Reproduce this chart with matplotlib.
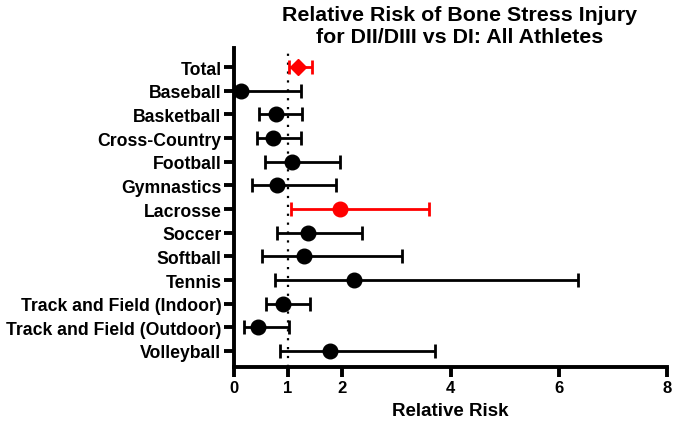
import matplotlib
matplotlib.use("Agg")
import matplotlib.pyplot as plt
import numpy as np

plt.rcParams['font.family'] = ['Liberation Sans', 'DejaVu Sans']
plt.rcParams['font.weight'] = 'bold'

sports = ["Total", "Baseball", "Basketball", "Cross-Country", "Football",
          "Gymnastics", "Lacrosse", "Soccer", "Softball", "Tennis",
          "Track and Field (Indoor)", "Track and Field (Outdoor)", "Volleyball"]
rr = [1.19, 0.14, 0.77, 0.73, 1.07, 0.80, 1.96, 1.37, 1.29, 2.21, 0.91, 0.44, 1.77]
lower = [1.01, 0.0, 0.46, 0.43, 0.57, 0.33, 1.05, 0.80, 0.52, 0.76, 0.59, 0.18, 0.85]
upper = [1.44, 1.23, 1.25, 1.23, 1.96, 1.89, 3.60, 2.37, 3.10, 6.36, 1.40, 1.01, 3.71]
highlight = ["Total", "Lacrosse"]
xticks = [0, 1, 2, 4, 6, 8]


def main():
    fig = plt.figure(figsize=(6.74, 4.31), dpi=100)
    ax = fig.add_axes([0.347, 0.146, 0.643, 0.740])

    ax.axvline(1, color="black", linestyle=(0, (1, 3)), linewidth=1.6, zorder=1)

    for i, name in enumerate(sports):
        col = "red" if name in highlight else "black"
        mk = "D" if name == "Total" else "o"
        ms = 8 if name == "Total" else 10.5
        err = np.array([[rr[i] - lower[i]], [upper[i] - rr[i]]])
        ax.errorbar(rr[i], i, xerr=err, fmt=mk, color=col, ecolor=col,
                    markersize=ms, elinewidth=2, capsize=5, capthick=2, zorder=3)

    ax.set_xlim(0, 8)
    ax.set_ylim(len(sports) - 1 + 0.68, -0.8)
    ax.set_xticks(xticks)
    ax.set_xticklabels([str(t) for t in xticks])
    ax.set_yticks(range(len(sports)))
    ax.set_yticklabels(sports)

    for s in ["top", "right"]:
        ax.spines[s].set_visible(False)
    for s in ["left", "bottom"]:
        ax.spines[s].set_linewidth(2.8)
    ax.tick_params(axis="both", direction="out", length=7, width=2.8)
    ax.tick_params(axis="y", labelsize=12.7, pad=2)
    ax.tick_params(axis="x", labelsize=12, pad=2)

    ax.set_xlabel("Relative Risk", fontsize=13.5, fontweight="bold", labelpad=5)
    fig.text(0.682, 0.985, "Relative Risk of Bone Stress Injury\nfor DII/DIII vs DI: All Athletes",
             ha="center", va="top", fontsize=15.4, fontweight="bold", linespacing=1.15)

    fig.savefig("out.png", dpi=100)


if __name__ == "__main__":
    main()
